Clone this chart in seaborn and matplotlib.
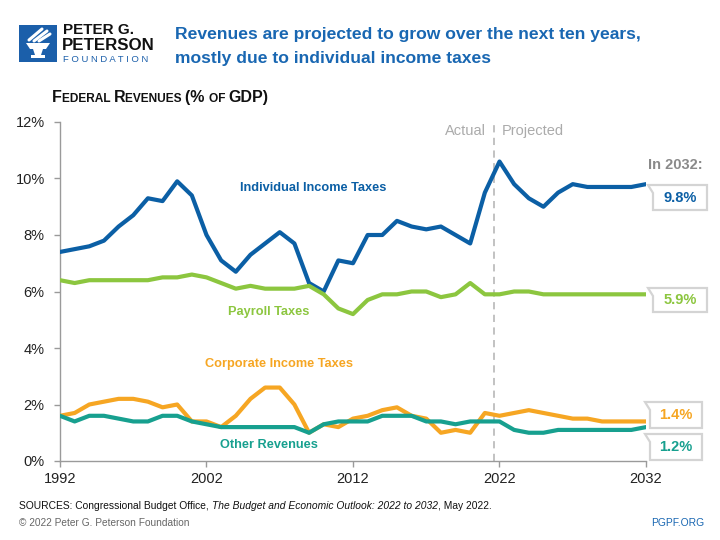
import matplotlib
matplotlib.use("Agg")
import matplotlib.pyplot as plt
from matplotlib.patches import Polygon, Rectangle
import seaborn as sns
import pandas as pd

# ---------------- data (% of GDP) ----------------
years = list(range(1992, 2033))
individual = [7.4, 7.5, 7.6, 7.8, 8.3, 8.7, 9.3, 9.2, 9.9, 9.4, 8.0, 7.1, 6.7, 7.3, 7.7,
              8.1, 7.7, 6.3, 6.0, 7.1, 7.0, 8.0, 8.0, 8.5, 8.3, 8.2, 8.3, 8.0, 7.7, 9.5,
              10.6, 9.8, 9.3, 9.0, 9.5, 9.8, 9.7, 9.7, 9.7, 9.7, 9.8]
payroll = [6.4, 6.3, 6.4, 6.4, 6.4, 6.4, 6.4, 6.5, 6.5, 6.6, 6.5, 6.3, 6.1, 6.2, 6.1,
           6.1, 6.1, 6.2, 5.9, 5.4, 5.2, 5.7, 5.9, 5.9, 6.0, 6.0, 5.8, 5.9, 6.3, 5.9,
           5.9, 6.0, 6.0, 5.9, 5.9, 5.9, 5.9, 5.9, 5.9, 5.9, 5.9]
corporate = [1.6, 1.7, 2.0, 2.1, 2.2, 2.2, 2.1, 1.9, 2.0, 1.4, 1.4, 1.2, 1.6, 2.2, 2.6,
             2.6, 2.0, 1.0, 1.3, 1.2, 1.5, 1.6, 1.8, 1.9, 1.6, 1.5, 1.0, 1.1, 1.0, 1.7,
             1.6, 1.7, 1.8, 1.7, 1.6, 1.5, 1.5, 1.4, 1.4, 1.4, 1.4]
other = [1.6, 1.4, 1.6, 1.6, 1.5, 1.4, 1.4, 1.6, 1.6, 1.4, 1.3, 1.2, 1.2, 1.2, 1.2,
         1.2, 1.2, 1.0, 1.3, 1.4, 1.4, 1.4, 1.6, 1.6, 1.6, 1.4, 1.4, 1.3, 1.4, 1.4,
         1.4, 1.1, 1.0, 1.0, 1.1, 1.1, 1.1, 1.1, 1.1, 1.1, 1.2]
series_names = ["Individual Income Taxes", "Payroll Taxes", "Corporate Income Taxes", "Other Revenues"]
x_ticks = [1992, 2002, 2012, 2022, 2032]
y_ticks = [0, 2, 4, 6, 8, 10, 12]
split_year = 2021.6

colors = {"Individual Income Taxes": "#0B5FA5", "Payroll Taxes": "#8CC63F",
          "Corporate Income Taxes": "#F6A623", "Other Revenues": "#17A08F"}

values = [individual, payroll, corporate, other]
df = pd.concat([pd.DataFrame({"year": years, "value": v, "series": n})
                for n, v in zip(series_names, values)], ignore_index=True)

# ---------------- style ----------------
sns.set_style("ticks")
SANS = ["Liberation Sans", "DejaVu Sans"]
plt.rcParams["font.family"] = SANS

W, H = 720, 540
fig = plt.figure(figsize=(7.2, 5.4), dpi=100)
fig.patch.set_facecolor("white")

def fx(x):
    return x / W

def fy(y):
    return 1 - y / H

ax = fig.add_axes([fx(60), fy(461), fx(646) - fx(60), fy(122) - fy(461)])
ax.axvline(split_year, color="#BDBDBD", lw=1.3, ls=(0, (4, 3)), zorder=1)
sns.lineplot(data=df, x="year", y="value", hue="series", hue_order=series_names,
             palette=colors, linewidth=3.0, legend=False, ax=ax, zorder=3,
             solid_joinstyle="round", solid_capstyle="round")

ax.set_xlim(years[0], years[-1])
ax.set_ylim(0, 12)
ax.set_xticks(x_ticks)
ax.set_xticklabels([str(t) for t in x_ticks])
ax.set_yticks(y_ticks)
ax.set_yticklabels([f"{t}%" for t in y_ticks])
ax.set_xlabel("")
ax.set_ylabel("")
for s in ["top", "right"]:
    ax.spines[s].set_visible(False)
for s in ["left", "bottom"]:
    ax.spines[s].set_color("#9A9A9A")
    ax.spines[s].set_linewidth(1.0)
ax.tick_params(axis="both", colors="#9A9A9A", length=4, width=1.0, labelcolor="#222222",
               labelsize=10.5)
ax.tick_params(axis="y", pad=7)
ax.tick_params(axis="x", pad=4)
ax.patch.set_alpha(0)

# series labels
lab_kw = dict(fontsize=9.2, fontweight="bold", ha="center", va="center")
fig.text(fx(313), fy(188), series_names[0], color=colors[series_names[0]], **lab_kw)
fig.text(fx(269), fy(312), series_names[1], color=colors[series_names[1]], **lab_kw)
fig.text(fx(279), fy(364), series_names[2], color=colors[series_names[2]], **lab_kw)
fig.text(fx(269), fy(445), series_names[3], color=colors[series_names[3]], **lab_kw)

# Actual | Projected
fig.text(fx(486), fy(131), "Actual", color="#ABABAB", fontsize=10.5, ha="right", va="center")
fig.text(fx(502), fy(131), "Projected", color="#ABABAB", fontsize=10.5, ha="left", va="center")

# ---------------- end-value boxes ----------------
fig.text(fx(675), fy(165), f"In {years[-1]}:", color="#8A8A8A", fontsize=10.5,
         fontweight="bold", ha="center", va="center")

def callout(x0, x1, top, bot, val, color):
    pts = [(x0 - 5, top), (x1, top), (x1, bot), (x0, bot), (x0, top + 8)]
    poly = Polygon([(fx(a), fy(b)) for a, b in pts], closed=True, transform=fig.transFigure,
                   facecolor="white", edgecolor="#D4D4D4", lw=1.6, zorder=5)
    fig.patches.append(poly)
    fig.text(fx((x0 + x1) / 2), fy((top + bot) / 2), f"{val:.1f}%", color=color, fontsize=10.5,
             fontweight="bold", ha="center", va="center", zorder=6)

callout(653, 707, 185, 210, individual[-1], colors[series_names[0]])
callout(653, 707, 288, 312, payroll[-1], colors[series_names[1]])
callout(650, 702, 402, 428, corporate[-1], colors[series_names[2]])
callout(650, 702, 434, 460, other[-1], colors[series_names[3]])

# ---------------- header ----------------
logo_blue = "#1B5FAA"
fig.patches.append(Rectangle((fx(19), fy(62)), fx(38), 37 / H, transform=fig.transFigure,
                             facecolor=logo_blue, edgecolor="none"))
cup = [(26, 43), (50, 43), (46, 49), (30, 49)]
stem = [(33, 49), (43, 49), (41, 55), (35, 55)]
base = [(31, 55), (45, 55), (45, 57.5), (31, 57.5)]
for shape in (cup, stem, base):
    fig.patches.append(Polygon([(fx(a), fy(b)) for a, b in shape], closed=True,
                               transform=fig.transFigure, facecolor="white", edgecolor="none"))
for (xa, ya, xb, yb) in [(29, 40, 42, 29), (34, 41, 47, 31), (39, 41, 50, 34)]:
    fig.lines.append(plt.Line2D([fx(xa), fx(xb)], [fy(ya), fy(yb)], transform=fig.transFigure,
                                color="white", lw=2.2, solid_capstyle="round"))

fig.text(fx(63), fy(30), "PETER G.", fontsize=11, fontweight="bold", color="#111111",
         ha="left", va="center")
fig.text(fx(62), fy(45), "PETERSON", fontsize=12.2, fontweight="bold", color="#111111",
         ha="left", va="center")
fig.text(fx(63), fy(59), "F O U N D A T I O N", fontsize=6.8, color=logo_blue,
         ha="left", va="center")

title_kw = dict(fontsize=12.6, fontweight="bold", color="#1967B2", ha="left", va="center")
fig.text(fx(175), fy(35), "Revenues are projected to grow over the next ten years,", **title_kw)
fig.text(fx(175), fy(59), "mostly due to individual income taxes", **title_kw)

# small-caps subtitle, pieces chained along one baseline
pieces = [("F", 11.5), ("EDERAL ", 8.6), ("R", 11.5), ("EVENUES ", 8.6), ("(% ", 11.5),
          ("OF ", 8.6), ("GDP)", 11.5)]
chain = fig.text(fx(52), fy(105), pieces[0][0], fontsize=pieces[0][1], fontweight="bold",
                 color="#111111", va="bottom", ha="left")
for txt, sz in pieces[1:]:
    chain = ax.annotate(txt, xy=(1, 0), xycoords=chain, fontsize=sz, fontweight="bold",
                        color="#111111", va="bottom", ha="left", annotation_clip=False)

# ---------------- footer ----------------
foot_kw = dict(fontsize=7.4, color="#111111", va="bottom", ha="left")
t1 = fig.text(fx(19), fy(511), "SOURCES: Congressional Budget Office, ", **foot_kw)
t2 = ax.annotate("The Budget and Economic Outlook: 2022 to 2032", xy=(1, 0), xycoords=t1,
                 style="italic", annotation_clip=False, **foot_kw)
t3 = ax.annotate(", May 2022.", xy=(1, 0), xycoords=t2, annotation_clip=False, **foot_kw)
fig.text(fx(19), fy(523), "\u00a9 2022 Peter G. Peterson Foundation", fontsize=7.3,
         color="#666666", va="center", ha="left")
fig.text(fx(704), fy(523), "PGPF.ORG", fontsize=7.4, color="#1967B2", va="center", ha="right")

fig.savefig("out.png", dpi=100, facecolor="white")
